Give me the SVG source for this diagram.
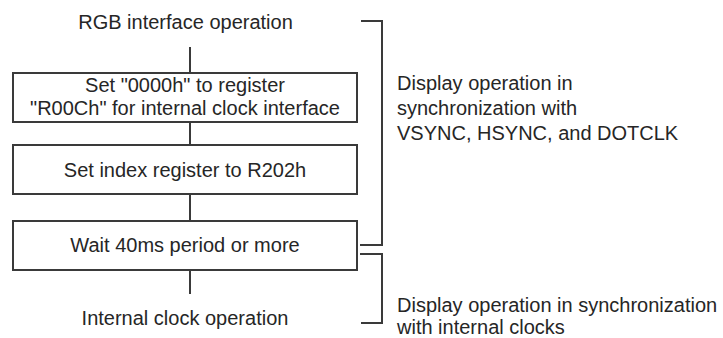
<svg xmlns="http://www.w3.org/2000/svg" width="723" height="338" viewBox="0 0 723 338">
<style>
text{font-family:"Liberation Sans",Arial,sans-serif;font-size:20px;fill:#262626}
.c{text-anchor:middle}
.box{fill:#fff;stroke:#3a3a3a;stroke-width:2}
.ln{fill:none;stroke:#3a3a3a;stroke-width:2}
</style>
<rect width="723" height="338" fill="#fff"/>
<g id="connectors">
<line class="ln" x1="190" y1="47" x2="190" y2="73"/>
<line class="ln" x1="190" y1="122" x2="190" y2="145"/>
<line class="ln" x1="190" y1="194" x2="190" y2="221"/>
<line class="ln" x1="190" y1="270" x2="190" y2="294"/>
</g>
<g id="start"><text class="c" x="185.5" y="29">RGB interface operation</text></g>
<g id="step1">
<rect class="box" x="13" y="73" width="344" height="49"/>
<text class="c" x="185" y="92">Set "0000h" to register</text>
<text class="c" x="185" y="115">"R00Ch" for internal clock interface</text>
</g>
<g id="step2">
<rect class="box" x="13" y="145" width="344" height="49"/>
<text class="c" x="185" y="177">Set index register to R202h</text>
</g>
<g id="step3">
<rect class="box" x="13" y="221" width="344" height="49"/>
<text class="c" x="185" y="252">Wait 40ms period or more</text>
</g>
<g id="end"><text class="c" x="185" y="325">Internal clock operation</text></g>
<g id="bracket1">
<polyline class="ln" points="361,21 382,21 382,245 360,245"/>
<text x="397" y="90">Display operation in</text>
<text x="397" y="115">synchronization with</text>
<text x="397" y="140">VSYNC, HSYNC, and DOTCLK</text>
</g>
<g id="bracket2">
<polyline class="ln" points="360,254 382,254 382,323 361,323"/>
<text x="397" y="312">Display operation in synchronization</text>
<text x="397" y="334">with internal clocks</text>
</g>
</svg>
